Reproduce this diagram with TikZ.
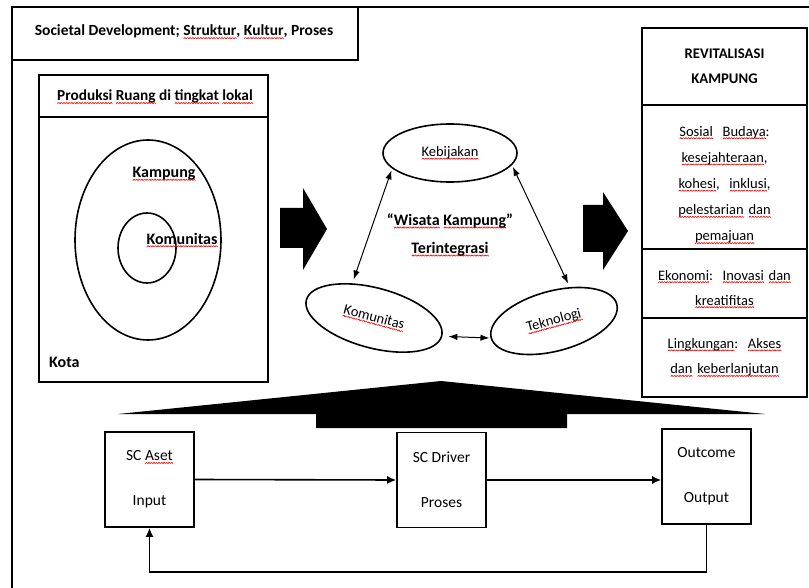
\documentclass[tikz,border=0pt]{standalone}
\usepackage{fontspec}
\setmainfont{Carlito}
\usetikzlibrary{shapes.geometric,arrows.meta}
\newcommand\wunit{\rotatebox{50}{\rule{1.6pt}{0.7pt}}\kern-0.3pt\raisebox{1.22pt}{\rotatebox{-50}{\rule{1.6pt}{0.7pt}}}\kern-0.3pt}
\newcommand\sq[1]{\leavevmode\setbox0\hbox{#1}\rlap{\lower3pt\hbox to \wd0{\color{red}\xleaders\hbox{\wunit}\hfil}}\box0\relax}
\tikzset{
  frame/.style={draw, line width=1.6pt},
  oval/.style={draw, ellipse, line width=1.6pt, inner sep=0pt, font=\fontsize{14.5}{16}\selectfont},
  thinarr/.style={line width=1pt, {Latex[length=9pt,width=6.5pt]}-{Latex[length=9pt,width=6.5pt]}},
  flow/.style={line width=1.6pt, -{Latex[length=9pt,width=8pt]}},
  rbox/.style={draw, line width=1.6pt, minimum width=165pt, inner sep=0pt, text width=158pt, align=center, font=\fontsize{14.5}{25.5}\selectfont},
  rtext/.style={inner sep=0pt, text width=158pt, align=center, font=\fontsize{14.5}{26.2}\selectfont},
  fbox/.style={draw, line width=1.6pt, minimum width=89pt, minimum height=95pt, inner sep=0pt, align=center, font=\fontsize{15.5}{45}\selectfont},
  blockarrow/.style={fill=black},
  boldlbl/.style={font=\bfseries\fontsize{16}{18}\selectfont},
}
\begin{document}
\begin{tikzpicture}[x=1pt,y=-1pt]
\useasboundingbox (0,0) rectangle (809,588);
% outer frame
\draw[frame] (12,590) -- (12,7) -- (812,7);
% title
\draw[frame] (12,7) rectangle (358,60);
\node[font=\bfseries\fontsize{15.5}{18}\selectfont] (title) at (184,32) {Societal Development; \sq{Struktur}, \sq{Kultur}, Proses};
% produksi box
\draw[frame] (39,75) rectangle (268,382);
\draw[frame] (39,117) -- (268,117);
\node[font=\bfseries\fontsize{15.3}{18}\selectfont] (prod) at (155,97) {\sq{Produksi} \sq{Ruang} di \sq{tingkat} \sq{lokal}};
\draw[line width=1.6pt] (148,240) ellipse [x radius=73, y radius=100];
\draw[line width=1.6pt] (147,248) ellipse [x radius=29, y radius=35];
\node[boldlbl] (kamp) at (164,174) {\sq{Kampung}};
\node[boldlbl] (komL) at (182,240) {\sq{Komunitas}};
\node[boldlbl, anchor=west, inner sep=0pt] (kota) at (49,362) {Kota};
% block arrows
\fill[blockarrow] (280,208) -- (303,208) -- (303,188) -- (327,229) -- (303,270) -- (303,248) -- (280,248) -- cycle;
\fill[blockarrow] (583,205) -- (603,205) -- (603,192) -- (628,231) -- (603,270) -- (603,252) -- (583,252) -- cycle;
% triad
\node[oval, minimum width=134pt, minimum height=58pt] (keb) at (450,153) {\sq{Kebijakan}};
\node[oval, minimum width=140pt, minimum height=60pt, rotate=-15] (kom) at (374,318) {\sq{Komunitas}};
\node[oval, minimum width=130pt, minimum height=60pt, rotate=15] (tek) at (554,321) {\sq{Teknologi}};
\node[font=\bfseries\fontsize{16}{28}\selectfont, align=center] (wisata) at (450,235) {“\sq{Wisata} \sq{Kampung}”\\\sq{Terintegrasi}};
\draw[thinarr, shorten <=2pt, shorten >=4pt] (keb.195) -- (kom.137);
\draw[thinarr, shorten <=2pt, shorten >=4pt] (keb.349) -- (tek.50);
\draw[thinarr, shorten <=6pt, shorten >=1pt] (kom.east) -- (tek.west);
% right column
\node[rbox, minimum height=77pt, font=\bfseries\fontsize{14.7}{25}\selectfont] (rev) at (724.5,66.5) {REVITALISASI\\KAMPUNG};
\node[rbox, minimum height=144pt] (sos) at (724.5,177) {};
\node[rtext] (sost) at (724.5,185) {\sq{Sosial}\ \ \sq{Budaya}:\\\sq{kesejahteraan},\\\sq{kohesi},\ \ \sq{inklusi},\\\sq{pelestarian} \sq{dan}\\\sq{pemajuan}};
\node[rbox, minimum height=69pt] (eko) at (724.5,283.5) {};
\node[rtext, font=\fontsize{14.5}{25}\selectfont] (ekot) at (724.5,289) {\sq{Ekonomi}:\ \ \sq{Inovasi} \sq{dan}\\\sq{kreatifitas}};
\node[rbox, minimum height=79pt] (ling) at (724.5,357.5) {\sq{Lingkungan}:\ \ \sq{Akses}\\\sq{dan} \sq{keberlanjutan}};
% big up arrow
\fill[blockarrow] (118,414) -- (441,381) -- (765,414) -- (567,414) -- (567,428) -- (316,428) -- (316,414) -- cycle;
% flow boxes
\node[fbox] (aset) at (149.5,479.5) {SC \sq{Aset}\\Input};
\node[fbox] (driver) at (441.5,480) {SC Driver\\Proses};
\node[fbox] (outc) at (706.5,476.5) {Outcome\\Output};
\coordinate (fb) at (0,572);
\draw[flow] (aset.east) -- (driver.west);
\draw[flow] (driver.east) -- (driver.east -| outc.west);
\draw[flow] (outc.south) -- (outc.south |- fb) -| (aset.south);
\end{tikzpicture}
\end{document}
